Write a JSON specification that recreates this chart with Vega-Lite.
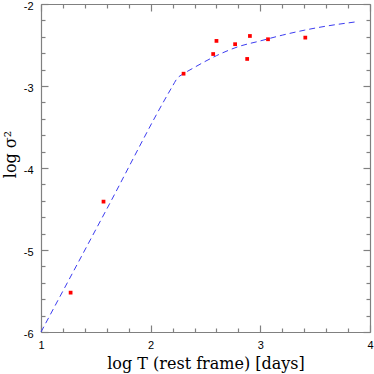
{
  "$schema": "https://vega.github.io/schema/vega-lite/v6.json",
  "width": 329,
  "height": 328,
  "autosize": "none",
  "padding": {"left": 41, "top": 4, "right": 4, "bottom": 42},
  "background": "white",
  "config": {
    "view": {"stroke": null},
    "axis": {
      "grid": false,
      "domainColor": "#808080",
      "domainWidth": 1.2,
      "tickColor": "#808080",
      "tickWidth": 1.2,
      "labelColor": "black",
      "labelFont": "Liberation Sans",
      "labelFontSize": 11,
      "titleFont": "DejaVu Serif",
      "titleFontSize": 16,
      "titleFontWeight": "normal",
      "titleColor": "black"
    }
  },
  "datasets": {
    "curve": [
      {"x": 1.0, "y": -6.0},
      {"x": 1.6, "y": -4.5},
      {"x": 2.2, "y": -3.0},
      {"x": 2.24, "y": -2.91},
      {"x": 2.3, "y": -2.85},
      {"x": 2.39, "y": -2.78},
      {"x": 2.6, "y": -2.63},
      {"x": 2.8, "y": -2.52},
      {"x": 3.0, "y": -2.45},
      {"x": 3.2, "y": -2.38},
      {"x": 3.4, "y": -2.32},
      {"x": 3.6, "y": -2.27},
      {"x": 3.86, "y": -2.22}
    ],
    "pts": [
      {"x": 1.27, "y": -5.52},
      {"x": 1.57, "y": -4.41},
      {"x": 2.3, "y": -2.85},
      {"x": 2.57, "y": -2.61},
      {"x": 2.6, "y": -2.45},
      {"x": 2.77, "y": -2.49},
      {"x": 2.88, "y": -2.67},
      {"x": 2.905, "y": -2.39},
      {"x": 3.07, "y": -2.43},
      {"x": 3.41, "y": -2.41}
    ]
  },
  "layer": [
    {
      "data": {"name": "curve"},
      "mark": {"type": "line", "strokeDash": [6, 4], "color": "#3c3cf0", "strokeWidth": 1, "interpolate": "monotone"},
      "encoding": {
        "x": {
          "field": "x", "type": "quantitative",
          "scale": {"domain": [1, 4], "nice": false, "zero": false},
          "axis": {
            "orient": "bottom",
            "title": "log T (rest frame) [days]",
            "values": [1,1.2,1.4,1.6,1.8,2,2.2,2.4,2.6,2.8,3,3.2,3.4,3.6,3.8,4],
            "labelExpr": "abs(datum.value - round(datum.value)) < 0.001 ? '' + round(datum.value) : ''",
            "tickSize": {"condition": {"test": "abs(datum.value - round(datum.value)) < 0.001", "value": -7}, "value": -4},
            "labelPadding": 14,
            "labelFlush": false,
            "labelOverlap": false,
            "titlePadding": 2
          }
        },
        "y": {
          "field": "y", "type": "quantitative",
          "scale": {"domain": [-6, -2], "nice": false, "zero": false},
          "axis": {
            "orient": "left",
            "title": "log σ²",
            "titleY": 150,
            "values": [-6,-5.8,-5.6,-5.4,-5.2,-5,-4.8,-4.6,-4.4,-4.2,-4,-3.8,-3.6,-3.4,-3.2,-3,-2.8,-2.6,-2.4,-2.2,-2],
            "labelExpr": "abs(datum.value - round(datum.value)) < 0.001 ? '' + round(datum.value) : ''",
            "tickSize": {"condition": {"test": "abs(datum.value - round(datum.value)) < 0.001", "value": -7}, "value": -4},
            "labelPadding": 15,
            "labelOffset": 2,
            "labelFlush": false,
            "labelOverlap": false,
            "titlePadding": 5
          }
        }
      }
    },
    {
      "data": {"name": "pts"},
      "mark": {"type": "square", "size": 14, "color": "#ff0000", "opacity": 1},
      "encoding": {
        "x": {
          "field": "x", "type": "quantitative",
          "scale": {"domain": [1, 4], "nice": false, "zero": false},
          "axis": {
            "orient": "top",
            "title": null,
            "labels": false,
            "values": [1,1.2,1.4,1.6,1.8,2,2.2,2.4,2.6,2.8,3,3.2,3.4,3.6,3.8,4],
            "tickSize": {"condition": {"test": "abs(datum.value - round(datum.value)) < 0.001", "value": -7}, "value": -4}
          }
        },
        "y": {
          "field": "y", "type": "quantitative",
          "scale": {"domain": [-6, -2], "nice": false, "zero": false},
          "axis": {
            "orient": "right",
            "title": null,
            "labels": false,
            "values": [-6,-5.8,-5.6,-5.4,-5.2,-5,-4.8,-4.6,-4.4,-4.2,-4,-3.8,-3.6,-3.4,-3.2,-3,-2.8,-2.6,-2.4,-2.2,-2],
            "tickSize": {"condition": {"test": "abs(datum.value - round(datum.value)) < 0.001", "value": -7}, "value": -4}
          }
        }
      }
    }
  ],
  "resolve": {"axis": {"x": "independent", "y": "independent"}}
}
